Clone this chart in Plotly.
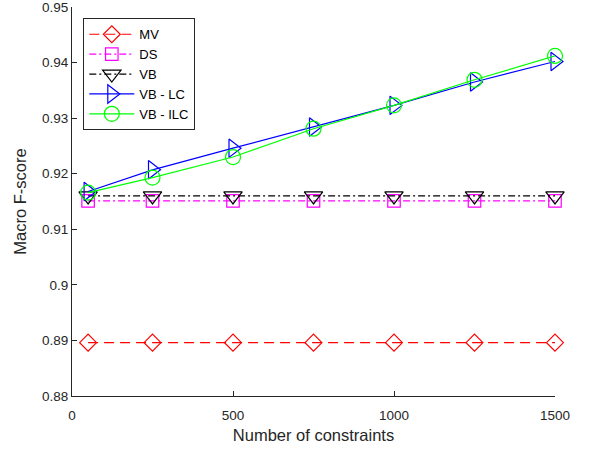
import plotly.graph_objects as go

constraints = [50, 250, 500, 750, 1000, 1250, 1500]
mv = [0.8896, 0.8896, 0.8896, 0.8896, 0.8896, 0.8896, 0.8896]
ds = [0.9151, 0.9151, 0.9151, 0.9151, 0.9151, 0.9151, 0.9151]
vb = [0.9160, 0.9160, 0.9160, 0.9160, 0.9160, 0.9160, 0.9160]
vb_lc = [0.9168, 0.9207, 0.9246, 0.9284, 0.9323, 0.9365, 0.9402]
vb_ilc = [0.9166, 0.9193, 0.9230, 0.9281, 0.9323, 0.9369, 0.9412]

x_ticks = [0, 500, 1000, 1500]
x_ticklabels = ["0", "500", "1000", "1500"]
y_ticks = [0.88, 0.89, 0.90, 0.91, 0.92, 0.93, 0.94, 0.95]
y_ticklabels = ["0.88", "0.89", "0.9", "0.91", "0.92", "0.93", "0.94", "0.95"]

FONT = "Liberation Sans, Arial, Helvetica, sans-serif"
AX = "#262626"

series = [
    ("MV", mv, "#FF0000", "10px,6px", "diamond-open", 13),
    ("DS", ds, "#FF00FF", "7px,3px,2px,3px", "square-open", 12.5),
    ("VB", vb, "#000000", "7px,3px,2px,3px", "triangle-down-open", 16),
    ("VB - LC", vb_lc, "#0000FF", "solid", "triangle-right-open", 16),
    ("VB - ILC", vb_ilc, "#00FF00", "solid", "circle-open", 15),
]

fig = go.Figure()
for name, ys, color, dash, sym, size in series:
    fig.add_trace(go.Scatter(
        x=constraints, y=ys, name=name, mode="lines+markers",
        line=dict(color=color, width=1.2, dash=dash),
        marker=dict(symbol=sym, size=size, color=color, line=dict(color=color, width=1.2)),
        cliponaxis=False,
    ))

fig.update_layout(
    width=592, height=449, autosize=False,
    margin=dict(l=72, r=37, t=7, b=53),
    paper_bgcolor="white", plot_bgcolor="white",
    font=dict(family=FONT, color=AX, size=14),
    showlegend=True,
    legend=dict(
        x=0.0234, y=0.971, xanchor="left", yanchor="top",
        bgcolor="white", bordercolor=AX, borderwidth=1,
        font=dict(family=FONT, size=13, color="#000000"),
        itemwidth=45,
    ),
    xaxis=dict(
        range=[0, 1500], tickvals=x_ticks, ticktext=x_ticklabels,
        ticks="inside", ticklen=5, tickwidth=1, tickcolor=AX,
        showline=True, linecolor=AX, linewidth=1,
        showgrid=False, zeroline=False, mirror=False,
        tickfont=dict(family=FONT, size=13.5, color=AX),
        ticklabelstandoff=7, ticklabeloverflow="allow",
        title=dict(text="Number of constraints", font=dict(family=FONT, size=16.5, color=AX), standoff=7),
        automargin=False,
    ),
    yaxis=dict(
        range=[0.8799999, 0.9500001], tickvals=y_ticks, ticktext=y_ticklabels,
        ticks="inside", ticklen=5, tickwidth=1, tickcolor=AX,
        showline=True, linecolor=AX, linewidth=1,
        showgrid=False, zeroline=False, mirror=False,
        tickfont=dict(family=FONT, size=13.5, color=AX),
        ticklabeloverflow="allow",
        title=dict(text="Macro F-score", font=dict(family=FONT, size=16.5, color=AX), standoff=11),
        automargin=False,
    ),
)

fig.write_html("out.html", config={"displayModeBar": False},
               post_script="document.body.style.margin='0';")
